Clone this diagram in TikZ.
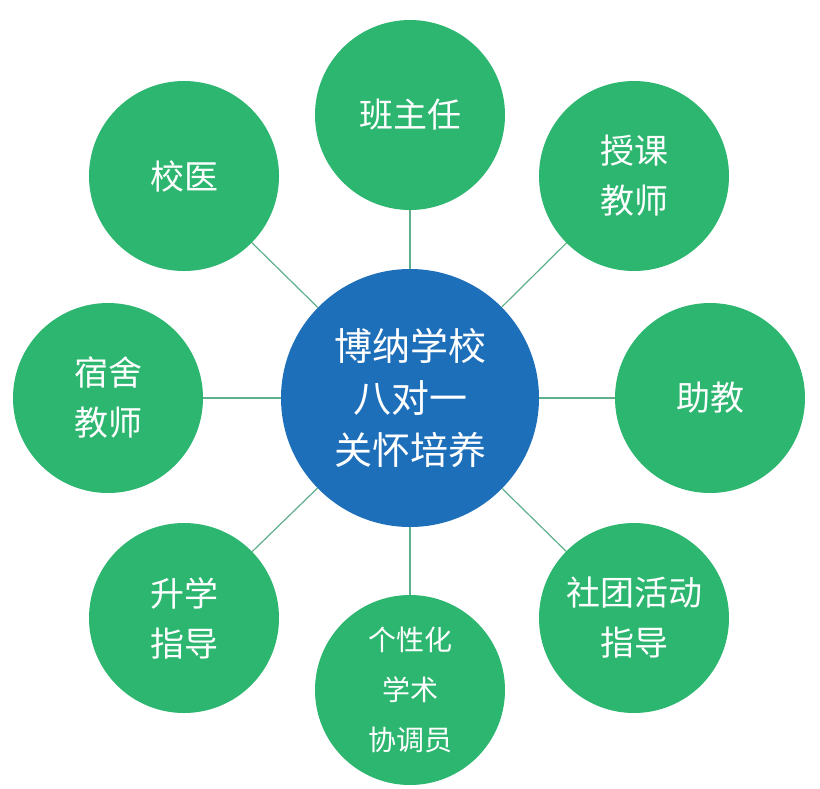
\documentclass[tikz,border=0pt]{standalone}
\usepackage{fontspec}
\newfontfamily\cjk{Noto Sans CJK SC}
\begin{document}
\begin{tikzpicture}[x=1pt,y=-1pt,
  leaf/.style={circle,fill=leafgreen,minimum size=190pt,inner sep=0pt,text=white,font=\cjk\fontsize{34}{50}\selectfont,align=center},
  hub/.style={circle,fill=hubblue,minimum size=258pt,inner sep=0pt,text=white,font=\cjk\fontsize{38}{52}\selectfont,align=center},
  link/.style={draw=linkcol,line width=1.2pt}]
\definecolor{leafgreen}{HTML}{2DB66F}
\definecolor{hubblue}{HTML}{1E6FBA}
\definecolor{linkcol}{HTML}{5FAF8A}
\useasboundingbox (0,0) rectangle (820,788);
\node[hub] (c) at (410,398) {博纳学校\\八对一\\关怀培养};
\node[leaf] (n) at (410,115) {班主任};
\node[leaf] (ne) at (634,176) {授课\\教师};
\node[leaf] (e) at (710,398) {助教};
\node[leaf] (se) at (634,618) {社团活动\\指导};
\node[leaf,font=\cjk\fontsize{28}{50}\selectfont] (s) at (410,690) {个性化\\学术\\协调员};
\node[leaf] (sw) at (184,618) {升学\\指导};
\node[leaf] (w) at (108,398) {宿舍\\教师};
\node[leaf] (nw) at (184,176) {校医};
\foreach \t in {n,ne,e,se,s,sw,w,nw} \draw[link] (c) -- (\t);
\end{tikzpicture}
\end{document}
